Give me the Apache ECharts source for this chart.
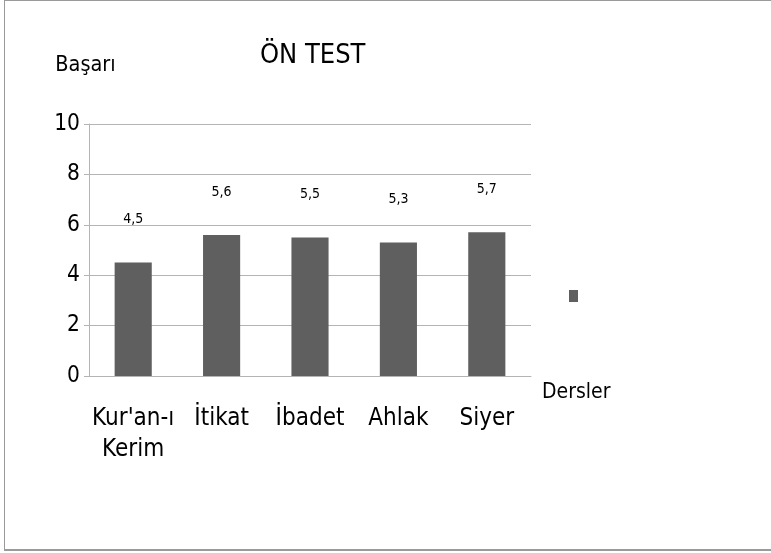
<!DOCTYPE html>
<html>
<head>
<meta charset="utf-8">
<script src="https://cdn.jsdelivr.net/npm/echarts@6/dist/echarts.min.js"></script>
<style>
  html, body { margin: 0; padding: 0; background: #fff; }
  #wrap { position: relative; width: 771px; height: 553px; overflow: hidden; }
  #frame {
    position: absolute; left: 4px; top: 0; width: 800px; height: 548px;
    border-left: 1px solid #9a9a9a; border-top: 1px solid #9a9a9a; border-bottom: 2px solid #9a9a9a;
  }
  #chart { position: absolute; left: 0; top: 0; width: 771px; height: 553px; }
</style>
</head>
<body>
<div id="wrap">
  <div id="frame"></div>
  <div id="chart"></div>
</div>
<script>
// ders kategorileri ve ön test başarı değerleri
const categories = ["Kur'an-ı\nKerim", 'İtikat', 'İbadet', 'Ahlak', 'Siyer']
const scores = [4.5, 5.6, 5.5, 5.3, 5.7]
const yTicks = [0, 2, 4, 6, 8, 10]

const FONT = "'DejaVu Sans Condensed', 'Liberation Sans', sans-serif"
const gridColor = '#b4b4b4'

const chart = echarts.init(document.getElementById('chart'))
chart.setOption({
  animation: false,
  textStyle: { fontFamily: FONT },
  title: {
    text: 'ÖN TEST',
    left: 260,
    top: 42,
    padding: 0,
    textStyle: { fontFamily: FONT, fontSize: 27, fontWeight: 'normal', color: '#000' }
  },
  legend: {
    left: 569,
    top: 290,
    padding: 0,
    icon: 'rect',
    itemWidth: 9,
    itemHeight: 12,
    formatter: () => '',
    data: ['Başarı']
  },
  grid: { left: 89, right: 240, top: 124, bottom: 177 },
  xAxis: {
    type: 'category',
    data: categories,
    name: 'Dersler',
    nameLocation: 'end',
    nameGap: 11,
    nameTextStyle: { fontFamily: FONT, fontSize: 21, color: '#000', verticalAlign: 'top', padding: [6, 0, 0, 0] },
    axisLine: { lineStyle: { color: gridColor } },
    axisTick: { length: 7, lineStyle: { color: gridColor } },
    axisLabel: { interval: 0, fontFamily: FONT, fontSize: 24, color: '#000', margin: 27, lineHeight: 31 }
  },
  yAxis: {
    type: 'value',
    min: yTicks[0],
    max: yTicks[yTicks.length - 1],
    interval: 2,
    name: 'Başarı',
    nameLocation: 'end',
    nameGap: 48,
    nameTextStyle: { fontFamily: FONT, fontSize: 21.5, color: '#000', padding: [0, 7, 0, 0] },
    axisLine: { show: true, lineStyle: { color: gridColor } },
    axisTick: { show: true, length: 5, lineStyle: { color: gridColor } },
    axisLabel: { fontFamily: FONT, fontSize: 22.5, color: '#000', margin: 9 },
    splitLine: { lineStyle: { color: gridColor } }
  },
  series: [{
    name: 'Başarı',
    type: 'bar',
    data: scores,
    barWidth: '42%',
    itemStyle: { color: '#5f5f5f' },
    label: {
      show: true,
      position: 'top',
      distance: 36,
      fontFamily: FONT,
      fontSize: 14,
      color: '#000',
      formatter: p => String(p.value).replace('.', ',')
    }
  }]
})
</script>
</body>
</html>
